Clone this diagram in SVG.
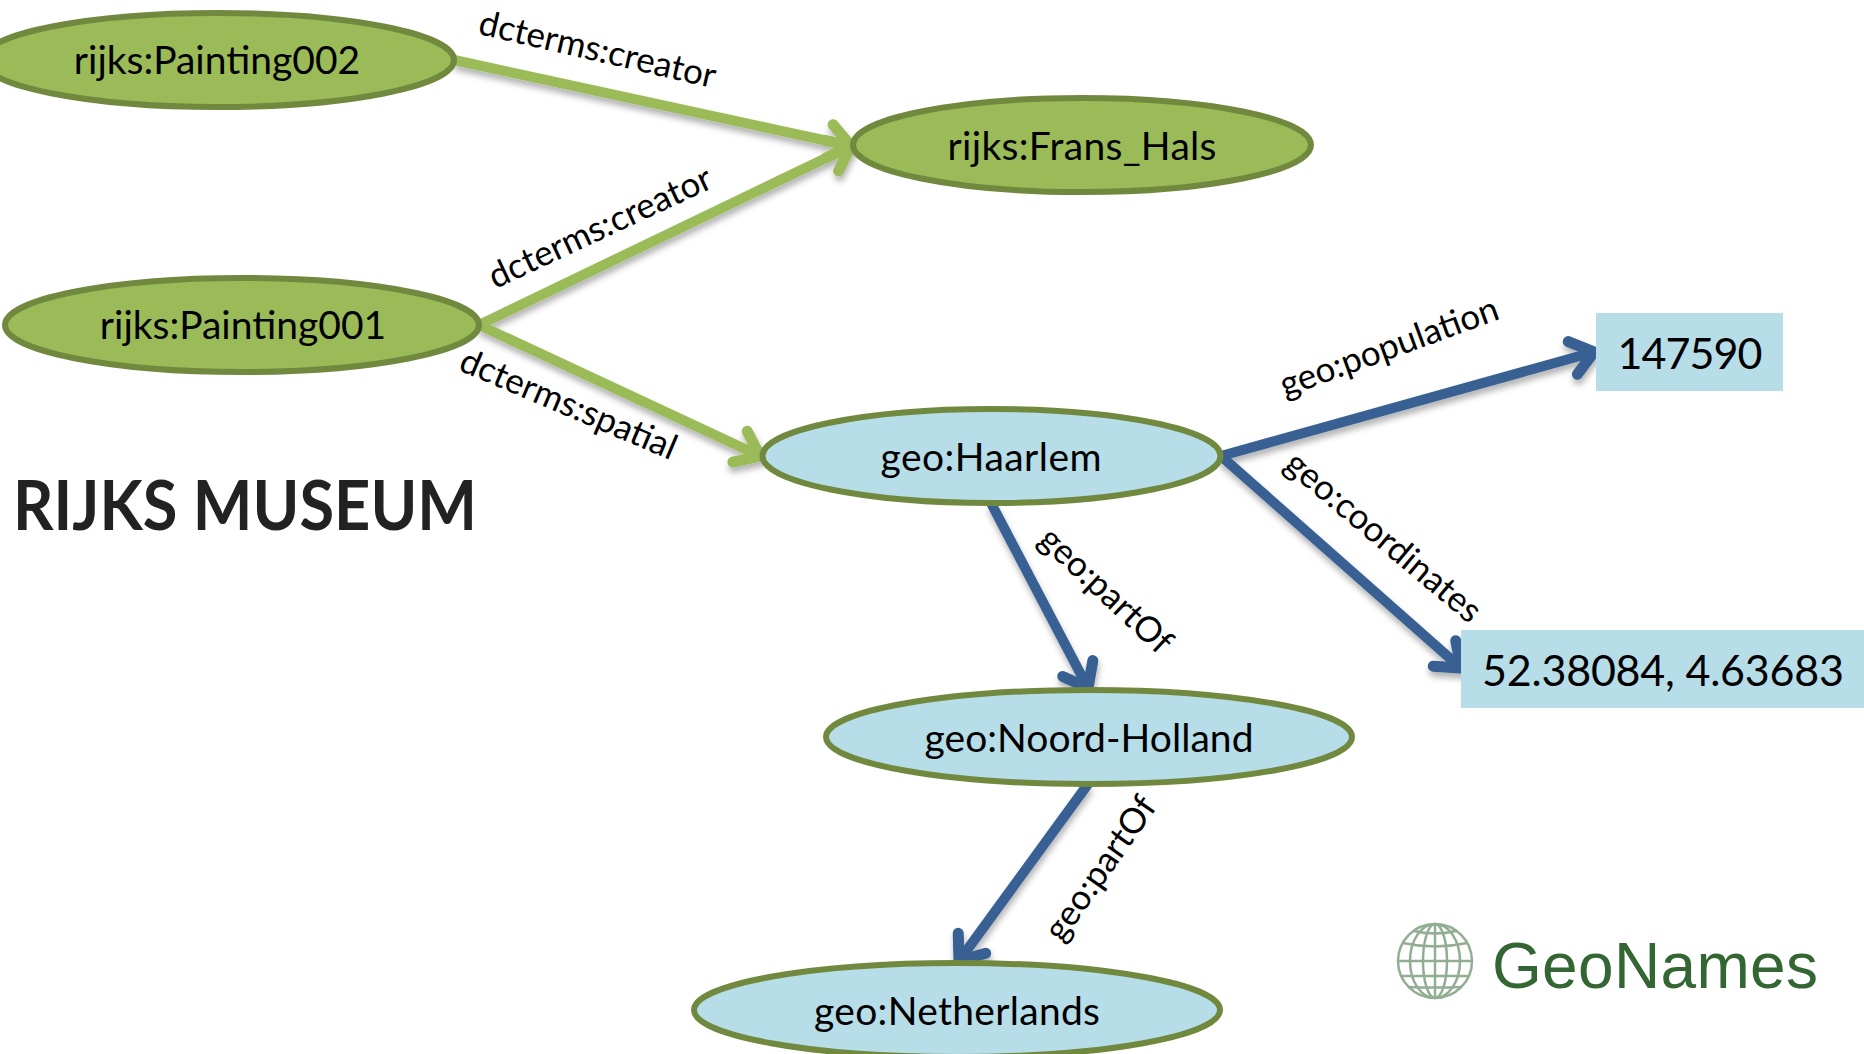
<svg xmlns="http://www.w3.org/2000/svg" width="1864" height="1054" viewBox="0 0 1864 1054">
<defs>
<filter id="sh" filterUnits="userSpaceOnUse" x="0" y="0" width="1864" height="1054"><feDropShadow dx="1" dy="5" stdDeviation="3" flood-color="#000" flood-opacity="0.3"/></filter>
<marker id="ag" markerUnits="userSpaceOnUse" markerWidth="50" markerHeight="50" refX="37" refY="25" orient="auto" overflow="visible"><path d="M15 8L37 25L15 42" fill="none" stroke="#9bbb59" stroke-width="11" stroke-linecap="round" stroke-linejoin="miter"/></marker>
<marker id="ab" markerUnits="userSpaceOnUse" markerWidth="50" markerHeight="50" refX="37" refY="25" orient="auto" overflow="visible"><path d="M15 8L37 25L15 42" fill="none" stroke="#376092" stroke-width="11" stroke-linecap="round" stroke-linejoin="miter"/></marker>
</defs>
<style>
text{font-family:Lato,"Liberation Sans",sans-serif;fill:#000}
.n{font-size:39px;text-anchor:middle}
.l{font-size:35px;text-anchor:middle}
.g{fill:#9bbb59;stroke:#71893f;stroke-width:6}
.b{fill:#b7dde8;stroke:#71893f;stroke-width:6}
.v{fill:#b7dde8}
.cg{stroke:#9bbb59;stroke-width:10;fill:none;marker-end:url(#ag)}
.cb{stroke:#376092;stroke-width:10;fill:none;marker-end:url(#ab)}
</style>
<rect width="1864" height="1054" fill="#fff"/>
<g id="connectors" filter="url(#sh)">
<line class="cg" x1="454" y1="60" x2="851" y2="146"/>
<line class="cg" x1="479" y1="325" x2="851" y2="146"/>
<line class="cg" x1="479" y1="325" x2="760" y2="456"/>
<line class="cb" x1="1221" y1="456" x2="1594" y2="352"/>
<line class="cb" x1="1221" y1="456" x2="1461" y2="668"/>
<line class="cb" x1="991" y1="503" x2="1088" y2="688"/>
<line class="cb" x1="1088" y1="784" x2="959" y2="961"/>
</g>
<g id="painting002"><ellipse class="g" cx="218" cy="60" rx="236" ry="47"/><text class="n" x="217" y="74">rijks:Painting002</text></g>
<g id="frans-hals"><ellipse class="g" cx="1082" cy="145" rx="229" ry="47"/><text class="n" x="1082" y="160" textLength="269">rijks:Frans_Hals</text></g>
<g id="painting001"><ellipse class="g" cx="242" cy="325" rx="237" ry="47"/><text class="n" x="243" y="339">rijks:Painting001</text></g>
<g id="haarlem"><ellipse class="b" cx="991.5" cy="456" rx="229" ry="47"/><text class="n" x="991" y="471" textLength="221">geo:Haarlem</text></g>
<g id="noord-holland"><ellipse class="b" cx="1089" cy="737" rx="263" ry="47"/><text class="n" x="1089" y="752" textLength="329">geo:Noord-Holland</text></g>
<g id="netherlands"><ellipse class="b" cx="957" cy="1010" rx="263" ry="47"/><text class="n" x="957" y="1025" textLength="286">geo:Netherlands</text></g>
<g id="population-value"><rect class="v" x="1596" y="313" width="187" height="78"/><text x="1690" y="369" text-anchor="middle" font-size="43" textLength="145">147590</text></g>
<g id="coordinates-value"><rect class="v" x="1461" y="630" width="403" height="78"/><text x="1663" y="686" text-anchor="middle" font-size="43" textLength="362">52.38084, 4.63683</text></g>
<g id="edge-labels">
<text class="l" transform="translate(595 61) rotate(13)">dcterms:creator</text>
<text class="l" transform="translate(605 238) rotate(-25)">dcterms:creator</text>
<text class="l" transform="translate(564 415) rotate(23)">dcterms:spatial</text>
<text class="l" transform="translate(1393 358) rotate(-20)">geo:population</text>
<text class="l" transform="translate(1376 546) rotate(40)">geo:coordinates</text>
<text class="l" transform="translate(1098 599) rotate(43)">geo:partOf</text>
<text class="l" transform="translate(1110 875) rotate(-55)">geo:partOf</text>
</g>
<g id="rijksmuseum-logo"><text x="13" y="530" font-size="68" font-weight="700" style="fill:#222" textLength="464" lengthAdjust="spacingAndGlyphs">RIJKS MUSEUM</text></g>
<g id="geonames-logo">
<g fill="none" stroke="#7fa080" stroke-width="2.5" opacity="0.85">
<circle cx="1435" cy="961" r="37"/>
<ellipse cx="1435" cy="961" rx="12" ry="37"/><ellipse cx="1435" cy="961" rx="25" ry="37"/><line x1="1435" y1="924" x2="1435" y2="998"/>
<line x1="1398" y1="961" x2="1472" y2="961"/><path d="M1403 943Q1435 950 1467 943M1414 931Q1435 936 1456 931M1401 976Q1435 976 1469 976M1408 987Q1435 988 1462 987"/>
</g>
<text x="1492" y="988" font-size="64" style="font-family:'Liberation Sans',sans-serif;fill:#336633" textLength="326">GeoNames</text>
</g>
</svg>
